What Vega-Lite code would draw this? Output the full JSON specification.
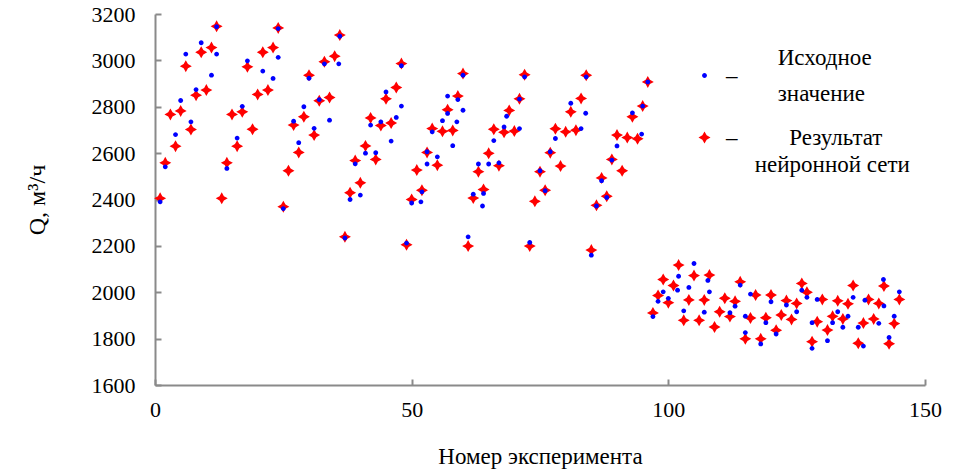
{
"$schema": "https://vega.github.io/schema/vega-lite/v6.json",
"width": 770, "height": 371,
"autosize": {"type": "none"},
"padding": {"left": 155, "top": 14, "right": 29, "bottom": 86},
"background": "white",
"config": {"view": {"stroke": null}, "font": "Liberation Serif"},
"datasets": {
"pts": [
{"n":1,"q":2405,"s":"Результат нейронной сети"},{"n":2,"q":2558,"s":"Результат нейронной сети"},{"n":3,"q":2767,"s":"Результат нейронной сети"},{"n":4,"q":2630,"s":"Результат нейронной сети"},{"n":5,"q":2782,"s":"Результат нейронной сети"},{"n":6,"q":2975,"s":"Результат нейронной сети"},{"n":7,"q":2702,"s":"Результат нейронной сети"},{"n":8,"q":2850,"s":"Результат нейронной сети"},{"n":9,"q":3035,"s":"Результат нейронной сети"},{"n":10,"q":2872,"s":"Результат нейронной сети"},{"n":11,"q":3055,"s":"Результат нейронной сети"},{"n":12,"q":3147,"s":"Результат нейронной сети"},
{"n":13,"q":2405,"s":"Результат нейронной сети"},{"n":14,"q":2558,"s":"Результат нейронной сети"},{"n":15,"q":2767,"s":"Результат нейронной сети"},{"n":16,"q":2630,"s":"Результат нейронной сети"},{"n":17,"q":2778,"s":"Результат нейронной сети"},{"n":18,"q":2972,"s":"Результат нейронной сети"},{"n":19,"q":2703,"s":"Результат нейронной сети"},{"n":20,"q":2853,"s":"Результат нейронной сети"},{"n":21,"q":3035,"s":"Результат нейронной сети"},{"n":22,"q":2872,"s":"Результат нейронной сети"},{"n":23,"q":3055,"s":"Результат нейронной сети"},{"n":24,"q":3140,"s":"Результат нейронной сети"},
{"n":25,"q":2369,"s":"Результат нейронной сети"},{"n":26,"q":2524,"s":"Результат нейронной сети"},{"n":27,"q":2721,"s":"Результат нейронной сети"},{"n":28,"q":2603,"s":"Результат нейронной сети"},{"n":29,"q":2757,"s":"Результат нейронной сети"},{"n":30,"q":2936,"s":"Результат нейронной сети"},{"n":31,"q":2678,"s":"Результат нейронной сети"},{"n":32,"q":2826,"s":"Результат нейронной сети"},{"n":33,"q":2994,"s":"Результат нейронной сети"},{"n":34,"q":2840,"s":"Результат нейронной сети"},{"n":35,"q":3018,"s":"Результат нейронной сети"},{"n":36,"q":3109,"s":"Результат нейронной сети"},
{"n":37,"q":2239,"s":"Результат нейронной сети"},{"n":38,"q":2429,"s":"Результат нейронной сети"},{"n":39,"q":2568,"s":"Результат нейронной сети"},{"n":40,"q":2472,"s":"Результат нейронной сети"},{"n":41,"q":2631,"s":"Результат нейронной сети"},{"n":42,"q":2752,"s":"Результат нейронной сети"},{"n":43,"q":2573,"s":"Результат нейронной сети"},{"n":44,"q":2719,"s":"Результат нейронной сети"},{"n":45,"q":2834,"s":"Результат нейронной сети"},{"n":46,"q":2730,"s":"Результат нейронной сети"},{"n":47,"q":2883,"s":"Результат нейронной сети"},{"n":48,"q":2986,"s":"Результат нейронной сети"},
{"n":49,"q":2205,"s":"Результат нейронной сети"},{"n":50,"q":2400,"s":"Результат нейронной сети"},{"n":51,"q":2527,"s":"Результат нейронной сети"},{"n":52,"q":2440,"s":"Результат нейронной сети"},{"n":53,"q":2603,"s":"Результат нейронной сети"},{"n":54,"q":2706,"s":"Результат нейронной сети"},{"n":55,"q":2548,"s":"Результат нейронной сети"},{"n":56,"q":2694,"s":"Результат нейронной сети"},{"n":57,"q":2787,"s":"Результат нейронной сети"},{"n":58,"q":2698,"s":"Результат нейронной сети"},{"n":59,"q":2846,"s":"Результат нейронной сети"},{"n":60,"q":2943,"s":"Результат нейронной сети"},
{"n":61,"q":2199,"s":"Результат нейронной сети"},{"n":62,"q":2406,"s":"Результат нейронной сети"},{"n":63,"q":2520,"s":"Результат нейронной сети"},{"n":64,"q":2443,"s":"Результат нейронной сети"},{"n":65,"q":2599,"s":"Результат нейронной сети"},{"n":66,"q":2703,"s":"Результат нейронной сети"},{"n":67,"q":2546,"s":"Результат нейронной сети"},{"n":68,"q":2690,"s":"Результат нейронной сети"},{"n":69,"q":2784,"s":"Результат нейронной сети"},{"n":70,"q":2695,"s":"Результат нейронной сети"},{"n":71,"q":2834,"s":"Результат нейронной сети"},{"n":72,"q":2938,"s":"Результат нейронной сети"},
{"n":73,"q":2199,"s":"Результат нейронной сети"},{"n":74,"q":2392,"s":"Результат нейронной сети"},{"n":75,"q":2520,"s":"Результат нейронной сети"},{"n":76,"q":2440,"s":"Результат нейронной сети"},{"n":77,"q":2602,"s":"Результат нейронной сети"},{"n":78,"q":2705,"s":"Результат нейронной сети"},{"n":79,"q":2544,"s":"Результат нейронной сети"},{"n":80,"q":2692,"s":"Результат нейронной сети"},{"n":81,"q":2778,"s":"Результат нейронной сети"},{"n":82,"q":2699,"s":"Результат нейронной сети"},{"n":83,"q":2836,"s":"Результат нейронной сети"},{"n":84,"q":2936,"s":"Результат нейронной сети"},
{"n":85,"q":2182,"s":"Результат нейронной сети"},{"n":86,"q":2375,"s":"Результат нейронной сети"},{"n":87,"q":2493,"s":"Результат нейронной сети"},{"n":88,"q":2414,"s":"Результат нейронной сети"},{"n":89,"q":2573,"s":"Результат нейронной сети"},{"n":90,"q":2678,"s":"Результат нейронной сети"},{"n":91,"q":2524,"s":"Результат нейронной сети"},{"n":92,"q":2667,"s":"Результат нейронной сети"},{"n":93,"q":2757,"s":"Результат нейронной сети"},{"n":94,"q":2662,"s":"Результат нейронной сети"},{"n":95,"q":2803,"s":"Результат нейронной сети"},{"n":96,"q":2907,"s":"Результат нейронной сети"},
{"n":97,"q":1911,"s":"Результат нейронной сети"},{"n":98,"q":1986,"s":"Результат нейронной сети"},{"n":99,"q":2055,"s":"Результат нейронной сети"},{"n":100,"q":1955,"s":"Результат нейронной сети"},{"n":101,"q":2029,"s":"Результат нейронной сети"},{"n":102,"q":2117,"s":"Результат нейронной сети"},{"n":103,"q":1879,"s":"Результат нейронной сети"},{"n":104,"q":1967,"s":"Результат нейронной сети"},{"n":105,"q":2072,"s":"Результат нейронной сети"},{"n":106,"q":1879,"s":"Результат нейронной сети"},{"n":107,"q":1967,"s":"Результат нейронной сети"},{"n":108,"q":2074,"s":"Результат нейронной сети"},
{"n":109,"q":1850,"s":"Результат нейронной сети"},{"n":110,"q":1916,"s":"Результат нейронной сети"},{"n":111,"q":1974,"s":"Результат нейронной сети"},{"n":112,"q":1895,"s":"Результат нейронной сети"},{"n":113,"q":1961,"s":"Результат нейронной сети"},{"n":114,"q":2045,"s":"Результат нейронной сети"},{"n":115,"q":1799,"s":"Результат нейронной сети"},{"n":116,"q":1889,"s":"Результат нейронной сети"},{"n":117,"q":1988,"s":"Результат нейронной сети"},{"n":118,"q":1799,"s":"Результат нейронной сети"},{"n":119,"q":1890,"s":"Результат нейронной сети"},{"n":120,"q":1988,"s":"Результат нейронной сети"},
{"n":121,"q":1836,"s":"Результат нейронной сети"},{"n":122,"q":1902,"s":"Результат нейронной сети"},{"n":123,"q":1964,"s":"Результат нейронной сети"},{"n":124,"q":1883,"s":"Результат нейронной сети"},{"n":125,"q":1952,"s":"Результат нейронной сети"},{"n":126,"q":2038,"s":"Результат нейронной сети"},{"n":127,"q":2000,"s":"Результат нейронной сети"},{"n":128,"q":1787,"s":"Результат нейронной сети"},{"n":129,"q":1873,"s":"Результат нейронной сети"},{"n":130,"q":1969,"s":"Результат нейронной сети"},{"n":131,"q":1837,"s":"Результат нейронной сети"},{"n":132,"q":1896,"s":"Результат нейронной сети"},
{"n":133,"q":1963,"s":"Результат нейронной сети"},{"n":134,"q":1885,"s":"Результат нейронной сети"},{"n":135,"q":1950,"s":"Результат нейронной сети"},{"n":136,"q":2029,"s":"Результат нейронной сети"},{"n":137,"q":1780,"s":"Результат нейронной сети"},{"n":138,"q":1867,"s":"Результат нейронной сети"},{"n":139,"q":1969,"s":"Результат нейронной сети"},{"n":140,"q":1885,"s":"Результат нейронной сети"},{"n":141,"q":1952,"s":"Результат нейронной сети"},{"n":142,"q":2027,"s":"Результат нейронной сети"},{"n":143,"q":1778,"s":"Результат нейронной сети"},{"n":144,"q":1865,"s":"Результат нейронной сети"},{"n":145,"q":1969,"s":"Результат нейронной сети"},
{"n":1,"q":2390,"s":"Исходное значение"},{"n":2,"q":2541,"s":"Исходное значение"},{"n":4,"q":2680,"s":"Исходное значение"},{"n":5,"q":2827,"s":"Исходное значение"},{"n":6,"q":3027,"s":"Исходное значение"},{"n":7,"q":2735,"s":"Исходное значение"},{"n":8,"q":2874,"s":"Исходное значение"},{"n":9,"q":3076,"s":"Исходное значение"},{"n":11,"q":2936,"s":"Исходное значение"},{"n":12,"q":3145,"s":"Исходное значение"},{"n":12,"q":3027,"s":"Исходное значение"},
{"n":14,"q":2534,"s":"Исходное значение"},{"n":16,"q":2665,"s":"Исходное значение"},{"n":17,"q":2802,"s":"Исходное значение"},{"n":18,"q":2998,"s":"Исходное значение"},{"n":21,"q":2954,"s":"Исходное значение"},{"n":23,"q":2922,"s":"Исходное значение"},{"n":24,"q":3137,"s":"Исходное значение"},{"n":24,"q":3013,"s":"Исходное значение"},
{"n":25,"q":2361,"s":"Исходное значение"},{"n":27,"q":2738,"s":"Исходное значение"},{"n":28,"q":2645,"s":"Исходное значение"},{"n":29,"q":2800,"s":"Исходное значение"},{"n":30,"q":2923,"s":"Исходное значение"},{"n":31,"q":2707,"s":"Исходное значение"},{"n":32,"q":2831,"s":"Исходное значение"},{"n":33,"q":2985,"s":"Исходное значение"},{"n":34,"q":2742,"s":"Исходное значение"},{"n":36,"q":3104,"s":"Исходное значение"},{"n":35.8,"q":2985,"s":"Исходное значение"},
{"n":37,"q":2234,"s":"Исходное значение"},{"n":38,"q":2400,"s":"Исходное значение"},{"n":39,"q":2554,"s":"Исходное значение"},{"n":40,"q":2419,"s":"Исходное значение"},{"n":41,"q":2600,"s":"Исходное значение"},{"n":42,"q":2721,"s":"Исходное значение"},{"n":43,"q":2602,"s":"Исходное значение"},{"n":44,"q":2735,"s":"Исходное значение"},{"n":45,"q":2864,"s":"Исходное значение"},{"n":46,"q":2652,"s":"Исходное значение"},{"n":47,"q":2754,"s":"Исходное значение"},{"n":48,"q":2977,"s":"Исходное значение"},{"n":48,"q":2803,"s":"Исходное значение"},
{"n":49,"q":2212,"s":"Исходное значение"},{"n":50,"q":2385,"s":"Исходное значение"},{"n":52,"q":2433,"s":"Исходное значение"},{"n":51.8,"q":2390,"s":"Исходное значение"},{"n":53,"q":2606,"s":"Исходное значение"},{"n":53,"q":2553,"s":"Исходное значение"},{"n":54,"q":2692,"s":"Исходное значение"},{"n":55,"q":2584,"s":"Исходное значение"},{"n":56,"q":2740,"s":"Исходное значение"},{"n":57,"q":2846,"s":"Исходное значение"},{"n":57,"q":2771,"s":"Исходное значение"},{"n":58,"q":2632,"s":"Исходное значение"},{"n":59,"q":2831,"s":"Исходное значение"},{"n":58.8,"q":2735,"s":"Исходное значение"},{"n":60,"q":2936,"s":"Исходное значение"},{"n":60,"q":2785,"s":"Исходное значение"},
{"n":61,"q":2239,"s":"Исходное значение"},{"n":62,"q":2423,"s":"Исходное значение"},{"n":63,"q":2553,"s":"Исходное значение"},{"n":64,"q":2426,"s":"Исходное значение"},{"n":63.8,"q":2372,"s":"Исходное значение"},{"n":65,"q":2553,"s":"Исходное значение"},{"n":66,"q":2654,"s":"Исходное значение"},{"n":67,"q":2558,"s":"Исходное значение"},{"n":68,"q":2713,"s":"Исходное значение"},{"n":68.5,"q":2759,"s":"Исходное значение"},{"n":71,"q":2706,"s":"Исходное значение"},{"n":71,"q":2833,"s":"Исходное значение"},{"n":72,"q":2929,"s":"Исходное значение"},
{"n":73,"q":2215,"s":"Исходное значение"},{"n":75,"q":2524,"s":"Исходное значение"},{"n":76,"q":2438,"s":"Исходное значение"},{"n":77,"q":2606,"s":"Исходное значение"},{"n":78,"q":2663,"s":"Исходное значение"},{"n":81,"q":2815,"s":"Исходное значение"},{"n":83,"q":2706,"s":"Исходное значение"},{"n":84,"q":2929,"s":"Исходное значение"},{"n":83.9,"q":2772,"s":"Исходное значение"},
{"n":85,"q":2160,"s":"Исходное значение"},{"n":86,"q":2372,"s":"Исходное значение"},{"n":87,"q":2481,"s":"Исходное значение"},{"n":88,"q":2409,"s":"Исходное значение"},{"n":89,"q":2570,"s":"Исходное значение"},{"n":90,"q":2631,"s":"Исходное значение"},{"n":93,"q":2774,"s":"Исходное значение"},{"n":94.8,"q":2682,"s":"Исходное значение"},{"n":95,"q":2803,"s":"Исходное значение"},{"n":96,"q":2907,"s":"Исходное значение"},
{"n":97,"q":1895,"s":"Исходное значение"},{"n":98,"q":1961,"s":"Исходное значение"},{"n":99,"q":2002,"s":"Исходное значение"},{"n":100,"q":1974,"s":"Исходное значение"},{"n":102,"q":2069,"s":"Исходное значение"},{"n":101.8,"q":2009,"s":"Исходное значение"},{"n":103,"q":1920,"s":"Исходное значение"},{"n":104,"q":2021,"s":"Исходное значение"},{"n":105,"q":2124,"s":"Исходное значение"},{"n":107,"q":1914,"s":"Исходное значение"},{"n":107.7,"q":2051,"s":"Исходное значение"},{"n":108,"q":2002,"s":"Исходное значение"},
{"n":112,"q":1912,"s":"Исходное значение"},{"n":113,"q":1940,"s":"Исходное значение"},{"n":114,"q":2031,"s":"Исходное значение"},{"n":115,"q":1897,"s":"Исходное значение"},{"n":115,"q":1826,"s":"Исходное значение"},{"n":116,"q":1992,"s":"Исходное значение"},{"n":118,"q":1777,"s":"Исходное значение"},{"n":119,"q":1869,"s":"Исходное значение"},{"n":120,"q":1959,"s":"Исходное значение"},{"n":121,"q":1820,"s":"Исходное значение"},{"n":123,"q":1945,"s":"Исходное значение"},{"n":125,"q":1916,"s":"Исходное значение"},
{"n":126,"q":2009,"s":"Исходное значение"},{"n":127,"q":1978,"s":"Исходное значение"},{"n":128,"q":1758,"s":"Исходное значение"},{"n":128,"q":1869,"s":"Исходное значение"},{"n":129,"q":1969,"s":"Исходное значение"},{"n":131,"q":1791,"s":"Исходное значение"},{"n":132,"q":1869,"s":"Исходное значение"},{"n":133,"q":1916,"s":"Исходное значение"},{"n":134,"q":1849,"s":"Исходное значение"},{"n":135,"q":1897,"s":"Исходное значение"},{"n":136,"q":1978,"s":"Исходное значение"},{"n":137,"q":1849,"s":"Исходное значение"},
{"n":138,"q":1768,"s":"Исходное значение"},{"n":138.3,"q":1966,"s":"Исходное значение"},{"n":141,"q":1866,"s":"Исходное значение"},{"n":142,"q":1941,"s":"Исходное значение"},{"n":141.9,"q":2055,"s":"Исходное значение"},{"n":143,"q":1805,"s":"Исходное значение"},{"n":144,"q":1897,"s":"Исходное значение"},{"n":145,"q":2002,"s":"Исходное значение"}
]},
"data": {"name": "pts"},
"mark": {"type": "point", "filled": true, "size": 144, "opacity": 1, "strokeWidth": 0},
"encoding": {
  "x": {"field": "n", "type": "quantitative",
    "scale": {"domain": [0, 150], "nice": false, "zero": false},
    "axis": {"values": [0, 50, 100, 150], "title": "Номер эксперимента", "grid": false,
      "domainColor": "#8a8a8a", "domainWidth": 2, "tickColor": "#8a8a8a", "tickWidth": 2, "tickSize": -6,
      "labelPadding": 20, "labelFont": "Liberation Serif", "labelFontSize": 22, "labelColor": "#000",
      "labelFlush": false, "labelOverlap": false,
      "titleFont": "Liberation Serif", "titleFontSize": 23, "titleFontWeight": "normal", "titleColor": "#000", "titlePadding": 25}},
  "y": {"field": "q", "type": "quantitative",
    "scale": {"domain": [1600, 3200], "nice": false, "zero": false},
    "axis": {"values": [1600, 1800, 2000, 2200, 2400, 2600, 2800, 3000, 3200], "format": "d", "title": "Q, м³/ч", "grid": false,
      "domainColor": "#8a8a8a", "domainWidth": 2, "tickColor": "#8a8a8a", "tickWidth": 2, "tickSize": -6,
      "labelPadding": 26, "labelFont": "Liberation Serif", "labelFontSize": 22, "labelColor": "#000",
      "labelFlush": false, "labelOverlap": false,
      "titleFont": "Liberation Serif", "titleFontSize": 24, "titleFontWeight": "normal", "titleColor": "#000", "titlePadding": 42}},
  "color": {"field": "s", "type": "nominal",
    "scale": {"domain": ["Исходное значение", "Результат нейронной сети"], "range": ["#0000ff", "#ff0000"]},
    "legend": {"title": null, "orient": "none", "legendX": 538, "legendY": 50, "padding": 0,
      "symbolSize": 144, "symbolStrokeWidth": 0, "symbolOpacity": 1,
      "labelFont": "Liberation Serif", "labelFontSize": 23, "labelColor": "#000", "labelLimit": 400, "labelOffset": 10, "rowPadding": 20,
      "labelExpr": "datum.value == 'Исходное значение' ? ['\u200b\u00a0\u00a0\u00a0\u00a0\u00a0\u00a0\u00a0\u00a0\u00a0Исходное', '\u200b\u00a0', '–', '\u200b\u00a0', '\u200b\u00a0\u00a0\u00a0\u00a0\u00a0\u00a0\u00a0\u00a0\u00a0значение'] : ['–\u00a0\u00a0\u00a0\u00a0\u00a0\u00a0\u00a0\u00a0\u00a0Результат', '\u200b\u00a0', '\u200b\u00a0', '\u200b\u00a0\u00a0\u00a0\u00a0\u00a0нейронной сети']",
      "encode": {"labels": {"update": {"lineHeight": {"value": 9}, "dy": {"signal": "datum.value === 'Исходное значение' ? -18 : 0"}}}}}},
  "shape": {"field": "s", "type": "nominal",
    "scale": {"domain": ["Исходное значение", "Результат нейронной сети"], "range": ["M-0.4,0A0.4,0.4,0,1,0,0.4,0A0.4,0.4,0,1,0,-0.4,0Z", "M0,-1L0.36,-0.36L1,0L0.36,0.36L0,1L-0.36,0.36L-1,0L-0.36,-0.36Z"]},
    "legend": {"title": null, "orient": "none", "legendX": 538, "legendY": 50, "padding": 0,
      "symbolSize": 144, "symbolStrokeWidth": 0, "symbolOpacity": 1,
      "labelFont": "Liberation Serif", "labelFontSize": 23, "labelColor": "#000", "labelLimit": 400, "labelOffset": 10, "rowPadding": 20,
      "labelExpr": "datum.value == 'Исходное значение' ? ['\u200b\u00a0\u00a0\u00a0\u00a0\u00a0\u00a0\u00a0\u00a0\u00a0Исходное', '\u200b\u00a0', '–', '\u200b\u00a0', '\u200b\u00a0\u00a0\u00a0\u00a0\u00a0\u00a0\u00a0\u00a0\u00a0значение'] : ['–\u00a0\u00a0\u00a0\u00a0\u00a0\u00a0\u00a0\u00a0\u00a0Результат', '\u200b\u00a0', '\u200b\u00a0', '\u200b\u00a0\u00a0\u00a0\u00a0\u00a0нейронной сети']",
      "encode": {"labels": {"update": {"lineHeight": {"value": 9}, "dy": {"signal": "datum.value === 'Исходное значение' ? -18 : 0"}}}}}}
}
}
